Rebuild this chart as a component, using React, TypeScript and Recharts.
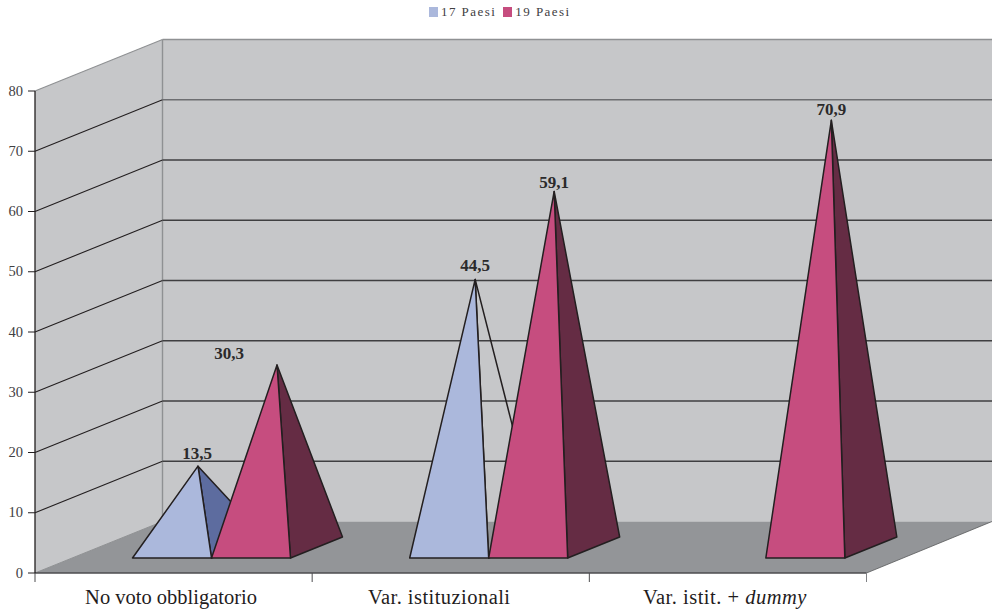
import React from "react";
import {
  ComposedChart,
  Bar,
  XAxis,
  YAxis,
  Legend,
  LabelList,
  ReferenceArea,
  ReferenceLine,
} from "recharts";

// Chart data
const categories = ["No voto obbligatorio", "Var. istituzionali", "Var. istit. + dummy"];
const paesi17 = [13.5, 44.5, null];
const paesi19 = [30.3, 59.1, 70.9];
const yTicks = [0, 10, 20, 30, 40, 50, 60, 70, 80];
const rows = categories.map((name, i) => ({ name, paesi17: paesi17[i], paesi19: paesi19[i] }));

// Projection of the box: how far the back wall sits from the front plane
const DEPTH_X = 127.5;
const DEPTH_Y = 51.5;
const WIDTH = 992;
const HEIGHT = 611;
const PLOT_LEFT = 35;
const PLOT_TOP = 91;
const PLOT_RIGHT = 866.5;
const PLOT_BOTTOM = 573;
const BAND = (PLOT_RIGHT - PLOT_LEFT) / categories.length;

// Where a pyramid stands on the floor, relative to its slot on the front plane
const BASE_DX = 37.5;
const BASE_DY = 15;
const BACK_DX = 52;
const BACK_DY = 21;
const APEX_DX = 26;
const APEX_DY = 25.5;

const SERIF = '"Liberation Serif", "Times New Roman", serif';
const INK = "#231f20";
const WALL = "#c6c7c9";
const FLOOR = "#939598";
const EDGE = "#8f9193";

// Small per-label shifts so text clears the marks
const labelShift17 = [[-1, -7], [0, -8], [0, 0]];
const labelShift19 = [[-48, -6], [0, -3], [0, -5]];
const categoryShift = [-2.5, -11.5, -3];
const categorySpacing = [0, 0.45, 0.5];

function Walls({ x, y, width, height }: any) {
  const floorY = y + height;
  const backX = x + DEPTH_X;
  const top = y - DEPTH_Y;
  const backFloor = floorY - DEPTH_Y;
  return (
    <g>
      <polygon points={`${x},${y} ${backX},${top} ${backX},${backFloor} ${x},${floorY}`} fill={WALL} />
      <rect x={backX} y={top} width={WIDTH - backX} height={height} fill={WALL} />
      <polygon
        points={`${x},${floorY} ${backX},${backFloor} ${WIDTH},${backFloor} ${x + width},${floorY}`}
        fill={FLOOR}
      />
      <line x1={x} y1={y} x2={backX} y2={top} stroke={EDGE} strokeWidth={1.2} />
      <line x1={backX} y1={top} x2={WIDTH} y2={top} stroke={EDGE} strokeWidth={1.6} />
      <line x1={backX} y1={top} x2={backX} y2={backFloor} stroke={EDGE} strokeWidth={1.4} />
      <line x1={x} y1={floorY} x2={backX} y2={backFloor} stroke={EDGE} strokeWidth={1} />
      <line x1={x + width} y1={floorY} x2={WIDTH} y2={backFloor} stroke="#58595b" strokeWidth={0.8} />
    </g>
  );
}

// One grid line folded along the left wall and across the back wall
function FoldedGridLine({ x1, y1, stroke }: any) {
  const cornerX = x1 + DEPTH_X;
  const cornerY = y1 - DEPTH_Y;
  return (
    <g fill="none">
      <line x1={x1} y1={y1} x2={cornerX} y2={cornerY} stroke={INK} strokeWidth={1.1} />
      <line x1={cornerX} y1={cornerY} x2={WIDTH} y2={cornerY} stroke={stroke} strokeWidth={1.3} />
    </g>
  );
}

function makePyramid(frontFill: string, sideFill: string, hollowSideFor?: string) {
  return function Pyramid(props: any) {
    const { x, y, width, height, payload } = props;
    if (!(height > 0)) return null;
    const left = x + BASE_DX;
    const right = left + width;
    const base = y + height - BASE_DY;
    const apexX = left + width / 2 + APEX_DX;
    const apexY = y - APEX_DY;
    const side = payload.name === hollowSideFor ? "none" : sideFill;
    return (
      <g stroke={INK} strokeWidth={1.5} strokeLinejoin="round">
        <polygon
          points={`${right},${base} ${right + BACK_DX},${base - BACK_DY} ${apexX},${apexY}`}
          fill={side}
        />
        <polygon points={`${left},${base} ${right},${base} ${apexX},${apexY}`} fill={frontFill} />
      </g>
    );
  };
}

function makeValueLabel(shifts: number[][]) {
  return function ValueLabel({ x, y, width, value, index }: any) {
    if (value == null) return null;
    const [dx, dy] = shifts[index];
    return (
      <text
        x={x + BASE_DX + width / 2 + APEX_DX + dx}
        y={y - APEX_DY + dy}
        textAnchor="middle"
        fontFamily={SERIF}
        fontWeight="bold"
        fontSize={17}
        fill="#2b2a2b"
      >
        {String(value).replace(".", ",")}
      </text>
    );
  };
}

function CategoryTick({ x, payload, index }: any) {
  const [before, after] = String(payload.value).split("dummy");
  const isItalic = String(payload.value).includes("dummy");
  const leftEdge = x - BAND / 2;
  return (
    <g>
      <line x1={leftEdge} y1={PLOT_BOTTOM} x2={leftEdge} y2={PLOT_BOTTOM + 9} stroke="#4d4d4f" strokeWidth={1} />
      {index === categories.length - 1 && (
        <line
          x1={x + BAND / 2}
          y1={PLOT_BOTTOM}
          x2={x + BAND / 2}
          y2={PLOT_BOTTOM + 9}
          stroke="#808285"
          strokeWidth={1}
        />
      )}
      <text
        x={x + categoryShift[index]}
        y={PLOT_BOTTOM + 31}
        textAnchor="middle"
        fontFamily={SERIF}
        fontSize={20.5}
        letterSpacing={categorySpacing[index]}
        fill="#1f1c1d"
      >
        {before}
        {isItalic && <tspan fontStyle="italic">dummy</tspan>}
        {after}
      </text>
    </g>
  );
}

function ValueTick({ y, payload }: any) {
  return (
    <g>
      <line x1={PLOT_LEFT - 7} y1={y} x2={PLOT_LEFT} y2={y} stroke={INK} strokeWidth={1} />
      <text x={23} y={y + 4.5} textAnchor="end" fontFamily={SERIF} fontSize={14.5} fill="#414042">
        {payload.value}
      </text>
    </g>
  );
}

function LegendRow({ payload }: any) {
  return (
    <div style={{ display: "flex", alignItems: "center", gap: 7, fontFamily: SERIF, fontSize: 13 }}>
      {(payload || []).map((entry: any) => (
        <span key={entry.value} style={{ display: "flex", alignItems: "center", gap: 3, letterSpacing: 1.45, color: "#414042" }}>
          <span style={{ width: 9, height: 10, background: entry.color, display: "inline-block" }} />
          {entry.value}
        </span>
      ))}
    </div>
  );
}

export default function App() {
  return (
    <div style={{ position: "absolute", left: 0, top: 0, width: WIDTH, height: HEIGHT }}>
      <ComposedChart
        width={WIDTH}
        height={HEIGHT}
        data={rows}
        margin={{ top: PLOT_TOP, right: WIDTH - PLOT_RIGHT, bottom: 0, left: 0 }}
        barSize={79}
        barGap={0}
      >
        <XAxis
          dataKey="name"
          height={HEIGHT - PLOT_BOTTOM}
          interval={0}
          tickLine={false}
          tick={<CategoryTick />}
          axisLine={{ stroke: "#4d4d4f", strokeWidth: 1.6 }}
        />
        <YAxis
          width={PLOT_LEFT}
          domain={[0, 80]}
          ticks={yTicks}
          tickLine={false}
          tick={<ValueTick />}
          axisLine={{ stroke: INK, strokeWidth: 1.3 }}
        />
        <Legend
          verticalAlign="middle"
          content={<LegendRow />}
          wrapperStyle={{ position: "absolute", top: 4, left: 429, width: 180 }}
        />
        <ReferenceArea y1={0} y2={80} ifOverflow="visible" shape={<Walls />} zIndex={-10} />
        {yTicks.slice(1, -1).map((tick) => (
          <ReferenceLine
            key={tick}
            y={tick}
            ifOverflow="visible"
            zIndex={-5}
            stroke={tick === 70 ? "#6d6e71" : "#3f3f41"}
            shape={<FoldedGridLine />}
          />
        ))}
        <Bar
          dataKey="paesi17"
          name="17 Paesi"
          fill="#abb8dc"
          isAnimationActive={false}
          shape={makePyramid("#abb8dc", "#5d6c9f", "Var. istituzionali")}
        >
          <LabelList dataKey="paesi17" content={makeValueLabel(labelShift17)} />
        </Bar>
        <Bar
          dataKey="paesi19"
          name="19 Paesi"
          fill="#c64d7f"
          isAnimationActive={false}
          shape={makePyramid("#c64d7f", "#652c44")}
        >
          <LabelList dataKey="paesi19" content={makeValueLabel(labelShift19)} />
        </Bar>
      </ComposedChart>
    </div>
  );
}
